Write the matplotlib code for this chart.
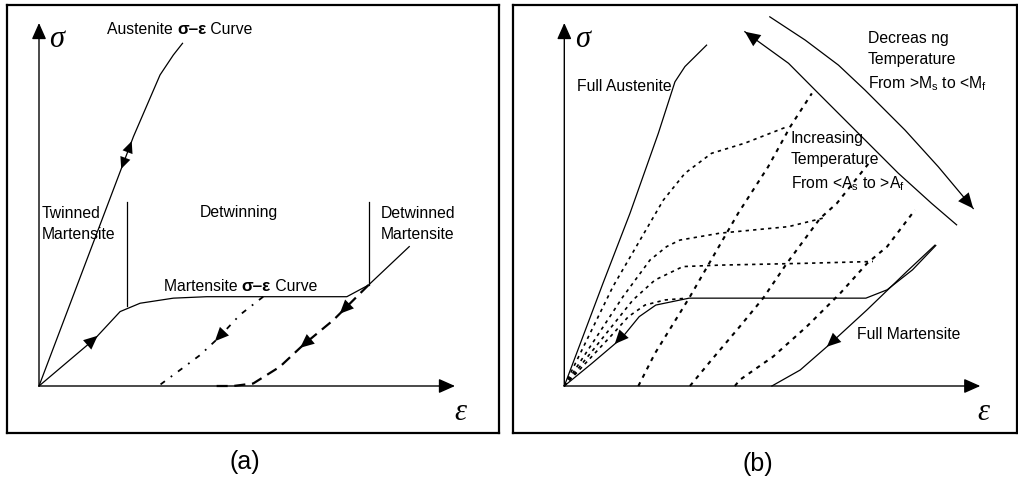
import numpy as np
import matplotlib
matplotlib.use('Agg')
import matplotlib.pyplot as plt

plt.rcParams['font.family'] = ['Liberation Sans', 'DejaVu Sans']
plt.rcParams['mathtext.fontset'] = 'custom'
plt.rcParams['mathtext.rm'] = 'Liberation Sans'
plt.rcParams['mathtext.it'] = 'Liberation Sans:italic'

# ---- (a) stress-strain curves, strain / stress in arbitrary units ----
aus_a_x = [0, 2.27, 2.91, 3.23, 3.45]
aus_a_y = [0, 6.87, 8.57, 9.12, 9.44]

mart_a_x = [0, 1.35, 1.95, 2.43, 3.23, 4.03, 7.40, 7.92, 8.90]
mart_a_y = [0, 1.31, 2.05, 2.28, 2.42, 2.46, 2.46, 2.78, 3.84]

unload1_a_x = [5.39, 4.83, 4.30, 3.87, 3.39, 2.87]
unload1_a_y = [2.46, 1.96, 1.31, 0.85, 0.44, 0.0]

unload2_a_x = [7.92, 7.56, 7.08, 6.35, 5.79, 5.15, 4.67, 4.27]
unload2_a_y = [2.78, 2.37, 1.82, 1.13, 0.53, 0.07, 0.0, 0.0]

# region dividers: strain position, lower and upper stress
dividers_a = [(2.12, 2.20, 5.08), (7.94, 2.78, 5.08)]

# ---- (b) temperature dependence ----
aus_b_x = [0, 0.93, 1.58, 2.26, 2.66, 2.90, 3.42]
aus_b_y = [0, 2.83, 4.76, 6.96, 8.38, 8.80, 9.39]

mart_b_x = [0, 0.66, 1.38, 1.80, 2.20, 3.00, 7.25, 7.76, 8.37, 8.93]
mart_b_y = [0, 0.62, 1.32, 1.91, 2.23, 2.42, 2.42, 2.65, 3.20, 3.87]

full_mart_x = [4.99, 5.67, 6.31, 7.27, 8.23, 8.91]
full_mart_y = [0, 0.44, 1.08, 2.09, 3.15, 3.88]

# intermediate temperature loading curves
load_curves = [
    ([0, 1.17, 2.38, 2.90, 3.54, 4.34, 5.35], [0, 2.74, 5.12, 5.86, 6.41, 6.69, 7.14]),
    ([0, 1.41, 2.06, 2.46, 2.78, 3.74, 5.39, 6.31], [0, 2.46, 3.47, 3.84, 4.02, 4.21, 4.39, 4.65]),
    ([0, 1.65, 2.18, 2.85, 3.74, 5.79, 7.42], [0, 2.37, 2.92, 3.29, 3.33, 3.38, 3.43]),
    ([0, 1.18, 1.54, 1.94, 2.42, 2.95], [0, 1.45, 1.91, 2.23, 2.37, 2.42]),
]

# unloading lines
unload_curves = [
    ([1.78, 2.18, 3.02, 3.67, 4.18, 4.90, 5.43, 5.95], [0, 0.90, 2.46, 3.75, 4.76, 6.04, 7.14, 8.06]),
    ([3.02, 3.54, 4.22, 4.78, 5.35, 6.15, 6.55, 7.35], [0, 0.72, 1.64, 2.42, 3.38, 4.62, 5.03, 6.18]),
    ([4.10, 4.22, 5.02, 5.83, 6.63, 7.28, 7.76, 8.43], [0, 0.17, 0.81, 1.64, 2.55, 3.38, 3.84, 4.85]),
]

# temperature direction arrows
inc_arrow_x = [4.34, 5.39, 6.11, 7.07, 8.03, 8.83, 9.43]
inc_arrow_y = [9.76, 8.89, 8.06, 6.96, 5.86, 5.03, 4.44]
dec_arrow_x = [4.94, 5.79, 6.59, 7.23, 8.19, 8.99, 9.83]
dec_arrow_y = [10.17, 9.53, 8.84, 8.15, 7.05, 6.04, 4.89]

W, H = 1018, 483
PX_X, PX_Y = 41.6, 36.3   # pixels per strain / stress unit
FS = 11.3
LS = 1.5

fig = plt.figure(figsize=(W / 100, H / 100), dpi=100)


def panel(left, right, x0, y0=386, top=5, bottom=433):
    ax = fig.add_axes([left / W, (H - bottom) / H, (right - left) / W, (bottom - top) / H])
    ax.set_xlim(-(x0 - left) / PX_X, (right - x0) / PX_X)
    ax.set_ylim(-(bottom - y0) / PX_Y, (y0 - top) / PX_Y)
    ax.set_xticks([])
    ax.set_yticks([])
    for s in ax.spines.values():
        s.set_linewidth(1.6)
    # sigma / epsilon axes with arrows
    ap = dict(arrowstyle='-|>,head_length=0.9,head_width=0.4', color='k', lw=1.0,
              shrinkA=0, shrinkB=0, mutation_scale=11)
    ax.annotate('', xy=(0, 10), xytext=(0, 0), arrowprops=ap)
    ax.annotate('', xy=(10, 0), xytext=(0, 0), arrowprops=ap)
    ax.text(0.43, 9.55, 'σ', fontsize=22, style='italic', family='Liberation Serif',
            ha='center', va='center')
    return ax


def head(ax, xs, ys, t, back=False, size=10):
    """filled arrow head on a curve at fraction t of its length"""
    xs, ys = np.asarray(xs, float), np.asarray(ys, float)
    s = np.concatenate([[0], np.cumsum(np.hypot(np.diff(xs), np.diff(ys)))])
    d = 0.8
    pos = t * s[-1]
    other = pos + d if back else pos - d
    other = min(max(other, 0), s[-1])
    tip = (np.interp(pos, s, xs), np.interp(pos, s, ys))
    tail = (np.interp(other, s, xs), np.interp(other, s, ys))
    ax.annotate('', xy=tip, xytext=tail,
                arrowprops=dict(arrowstyle='-|>,head_length=1.0,head_width=0.45', color='k',
                                lw=0, shrinkA=0, shrinkB=0, mutation_scale=size))


# ---------------- panel (a) ----------------
ax = panel(7, 499, 39)
ax.text(10.12, -0.72, 'ε', fontsize=22, style='italic', family='Liberation Serif',
        ha='center', va='center')
ax.plot(aus_a_x, aus_a_y, 'k-', lw=0.9)
ax.plot(mart_a_x, mart_a_y, 'k-', lw=0.9)
ax.plot(unload1_a_x, unload1_a_y, color='k', lw=1.3, ls=(0, (3, 4, 1, 4)))
ax.plot(unload2_a_x, unload2_a_y, color='k', lw=1.6, ls=(0, (5, 3)))
for x, y0, y1 in dividers_a:
    ax.plot([x, x], [y0, y1], 'k-', lw=0.9)

head(ax, aus_a_x, aus_a_y, 0.705, size=8.5)
head(ax, aus_a_x, aus_a_y, 0.625, back=True, size=8.5)
head(ax, mart_a_x, mart_a_y, 0.19)
head(ax, unload1_a_x, unload1_a_y, 0.48)
head(ax, unload2_a_x, unload2_a_y, 0.22)
head(ax, unload2_a_x, unload2_a_y, 0.50)

t1 = ax.text(1.63, 9.83, 'Austenite ', fontsize=FS, va='center')
t2 = ax.annotate('σ–ε', xy=(1, 0), xycoords=t1, va='bottom', fontsize=FS + 1, fontweight='bold')
ax.annotate(' Curve', xy=(1, 0), xycoords=t2, va='bottom', fontsize=FS)
t1 = ax.text(3.00, 2.75, 'Martensite ', fontsize=FS, va='center')
t2 = ax.annotate('σ–ε', xy=(1, 0), xycoords=t1, va='bottom', fontsize=FS + 1, fontweight='bold')
ax.annotate(' Curve', xy=(1, 0), xycoords=t2, va='bottom', fontsize=FS)
ax.text(0.07, 4.46, 'Twinned\nMartensite', fontsize=FS, va='center', linespacing=LS)
ax.text(3.87, 4.77, 'Detwinning', fontsize=FS, va='center')
ax.text(8.22, 4.46, 'Detwinned\nMartensite', fontsize=FS, va='center', linespacing=LS)

# ---------------- panel (b) ----------------
bx = panel(513, 1017, 564.3)
bx.text(10.07, -0.72, 'ε', fontsize=22, style='italic', family='Liberation Serif',
        ha='center', va='center')
bx.plot(aus_b_x, aus_b_y, 'k-', lw=0.9)
bx.plot(mart_b_x, mart_b_y, 'k-', lw=0.9)
bx.plot(full_mart_x, full_mart_y, 'k-', lw=0.9)
for xs, ys in load_curves:
    bx.plot(xs, ys, color='k', lw=1.2, ls=(0, (2, 2.5)))
for xs, ys in unload_curves:
    bx.plot(xs, ys, color='k', lw=1.5, ls=(0, (2, 2.5)))
bx.plot(inc_arrow_x, inc_arrow_y, 'k-', lw=0.9)
bx.plot(dec_arrow_x, dec_arrow_y, 'k-', lw=0.9)

head(bx, mart_b_x, mart_b_y, 0.16, back=True)
head(bx, full_mart_x, full_mart_y, 0.31, back=True)
head(bx, inc_arrow_x, inc_arrow_y, 0.0, back=True, size=11)
head(bx, dec_arrow_x, dec_arrow_y, 1.0, size=11)

bx.text(0.31, 8.24, 'Full Austenite', fontsize=FS, va='center')
bx.text(7.30, 8.92, 'Decreas ng\nTemperature\nFrom >M$_\\mathregular{s}$ to <M$_\\mathregular{f}$',
        fontsize=FS, va='center', linespacing=LS)
bx.text(5.44, 6.18, 'Increasing\nTemperature\nFrom <A$_\\mathregular{s}$ to >A$_\\mathregular{f}$',
        fontsize=FS, va='center', linespacing=LS)
bx.text(7.04, 1.43, 'Full Martensite', fontsize=FS, va='center')

fig.text(245 / W, 1 - 462 / H, '(a)', fontsize=18, ha='center', va='center')
fig.text(758 / W, 1 - 464 / H, '(b)', fontsize=18, ha='center', va='center')

fig.savefig('out.png', dpi=100, facecolor='white')
